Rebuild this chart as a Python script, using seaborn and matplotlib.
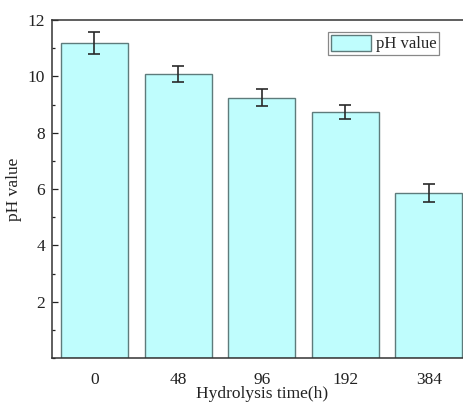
import matplotlib
matplotlib.use("Agg")
import matplotlib.pyplot as plt
import seaborn as sns
import pandas as pd
import numpy as np
from matplotlib.ticker import MultipleLocator

times = ["0", "48", "96", "192", "384"]
ph_values = [11.18, 10.09, 9.24, 8.74, 5.86]
ph_errors = [0.40, 0.29, 0.31, 0.26, 0.31]

sns.set_theme(style="ticks")
plt.rcParams["font.family"] = ["Liberation Serif", "DejaVu Serif"]

df = pd.DataFrame({"time": times, "ph": ph_values, "err": ph_errors})

fig = plt.figure(figsize=(4.64, 4.05), dpi=100)
ax = fig.add_axes([52/464, 47/405, 419.7/464, 338/405])

sns.barplot(data=df, x="time", y="ph", ax=ax, color="#bffdfd",
            edgecolor="#5e7b7b", linewidth=1.0, width=0.8, saturation=1,
            label="pH value")
ax.errorbar(np.arange(len(times)), df["ph"], yerr=df["err"], fmt="none",
            ecolor="#2a2a2a", elinewidth=1.2, capsize=4, capthick=1.2)

ax.set_xlim(-0.508, 4.512)
ax.set_ylim(0, 12)
ax.yaxis.set_major_locator(MultipleLocator(2))
ax.yaxis.set_minor_locator(MultipleLocator(1))
ax.set_yticks([2, 4, 6, 8, 10, 12])
ax.tick_params(axis="y", which="major", direction="in", length=4.5, width=0.9,
               labelsize=12.5, colors="#222222", pad=5)
ax.tick_params(axis="y", which="minor", direction="in", length=2.5, width=0.9,
               colors="#222222")
ax.tick_params(axis="x", length=0, labelsize=12.5, colors="#222222", pad=10)

for s in ax.spines.values():
    s.set_color("#333333")
    s.set_linewidth(1.1)

ax.set_xlabel("Hydrolysis time(h)", fontsize=12.5, color="#222222", labelpad=-1)
ax.set_ylabel("pH value", fontsize=12.5, color="#222222", labelpad=4)

leg = ax.legend(loc="upper right", bbox_to_anchor=(439/464, 1 - 32/405),
                bbox_transform=fig.transFigure, borderaxespad=0,
                fancybox=False, framealpha=1, edgecolor="#888888",
                fontsize=12, handlelength=2.4, handleheight=1.1,
                borderpad=0.15, handletextpad=0.3)
leg.get_frame().set_linewidth(0.9)

fig.savefig("out.png", dpi=100)
